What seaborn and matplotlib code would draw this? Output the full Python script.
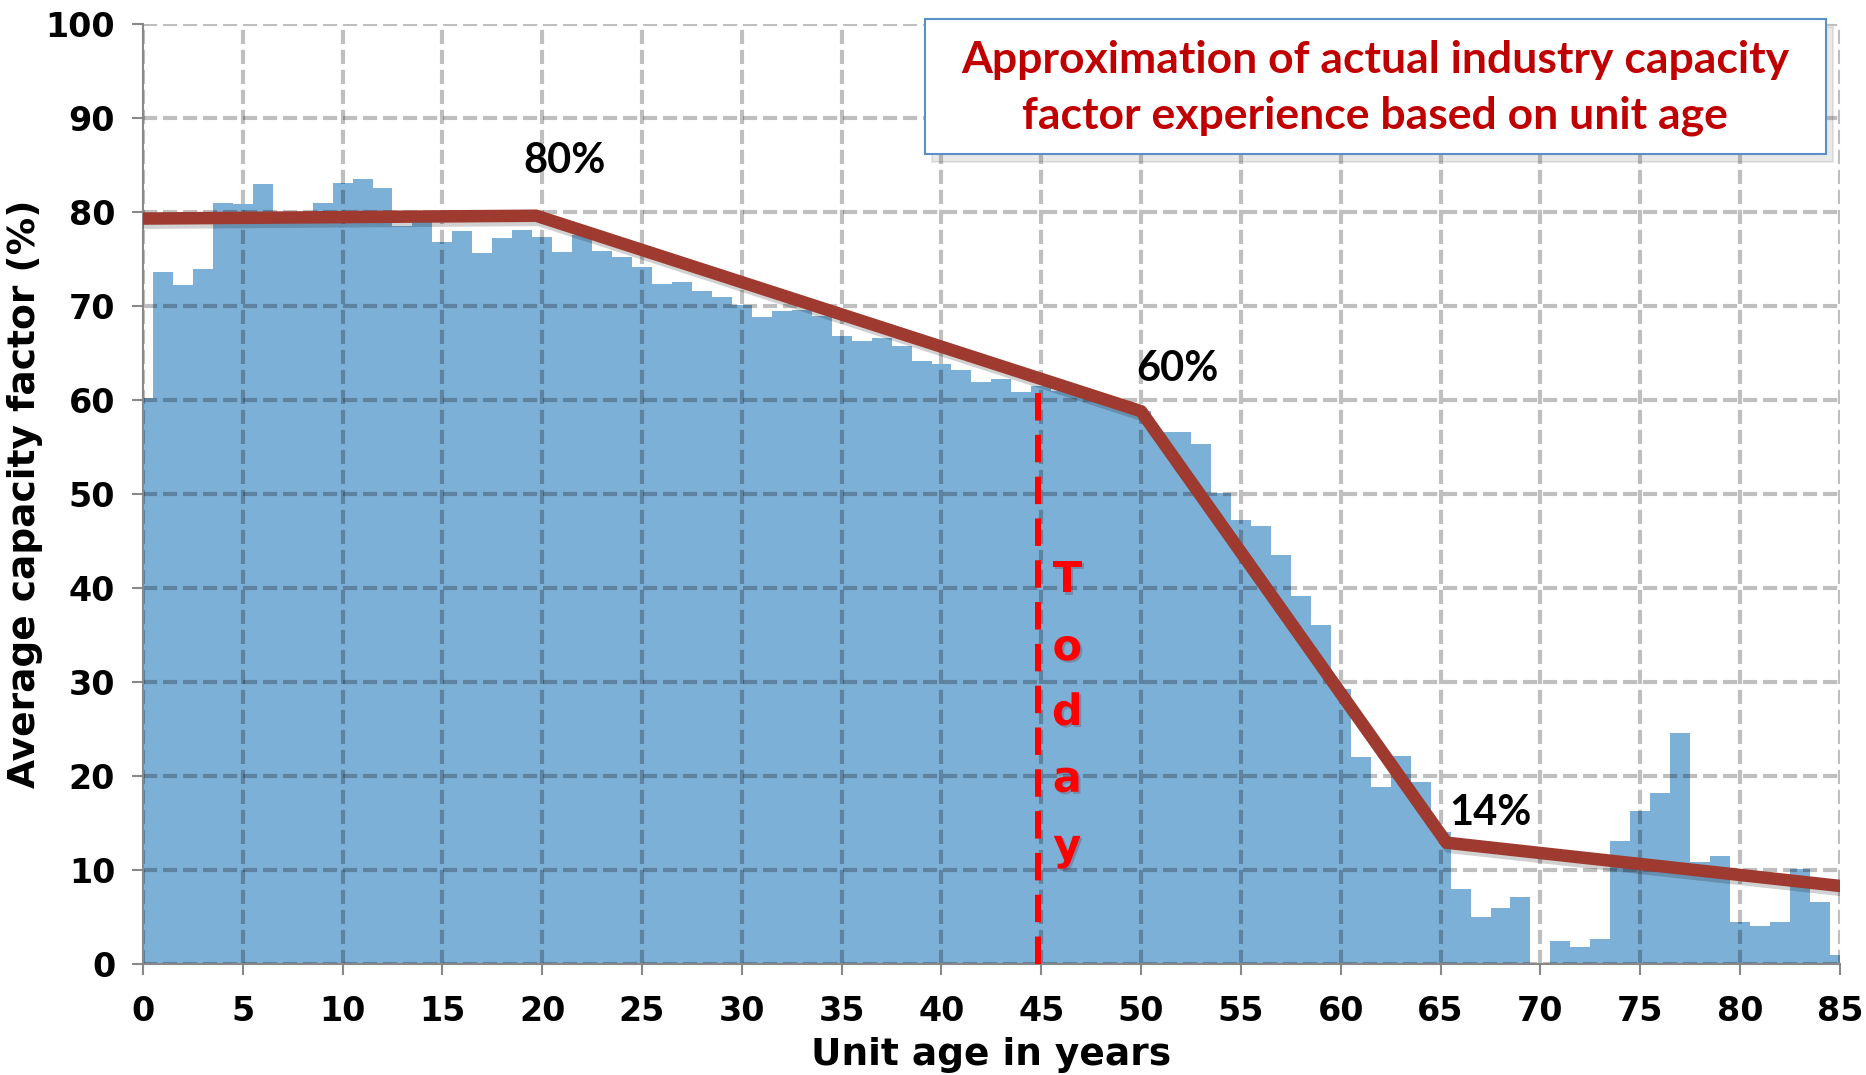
import numpy as np
import matplotlib
matplotlib.use("Agg")
import matplotlib.pyplot as plt
import matplotlib.patheffects as pe
from matplotlib.patches import Rectangle, Shadow
import seaborn as sns

# Datos: factor de capacidad medio por edad de la unidad
ages = np.arange(0, 86)
capacity = [
    60.2, 73.6, 72.2, 73.9, 81.0, 80.9, 83.0, 79.6, 79.4, 81.0,
    83.1, 83.5, 82.5, 78.5, 79.0, 76.8, 78.0, 75.6, 77.2, 78.1,
    77.3, 75.7, 77.5, 75.8, 75.2, 74.1, 72.3, 72.6, 71.6, 71.0,
    70.1, 68.8, 69.5, 69.6, 68.9, 66.8, 66.3, 66.6, 65.7, 64.1,
    63.8, 63.2, 61.9, 62.2, 60.9, 61.5, 61.0, 60.5, 60.0, 59.5,
    58.8, 56.6, 56.6, 55.3, 50.1, 47.2, 46.6, 43.5, 39.1, 36.1,
    29.3, 22.0, 18.8, 22.1, 19.4, 14.0, 8.0, 5.0, 5.9, 7.1,
    0.0, 2.4, 1.8, 2.7, 13.1, 16.3, 18.2, 24.6, 10.8, 11.5,
    4.5, 4.0, 4.5, 10.1, 6.6, 1.0,
]

# Aproximación por tramos
trend_x = [0, 19.7, 50.0, 65.3, 85.0]
trend_y = [79.3, 79.6, 58.8, 12.9, 8.3]

vertex_labels = ["80%", "60%", "14%"]
label_pos = [(21.1, 85.4), (51.8, 63.3), (67.5, 16.1)]

today_age = 44.85
today_top = 62.5
today_letters = list("Today")
today_y = [40.8, 33.6, 26.7, 19.6, 12.4]

box_text = "Approximation of actual industry capacity\nfactor experience based on unit age"

sns.set_style("white")

fig = plt.figure(figsize=(18.66, 10.75), dpi=100)
ax = fig.add_axes([0.0766, 0.1033, 0.9094, 0.8744])

sns.barplot(x=ages, y=capacity, native_scale=True, width=1.0,
            color="#7DB0D7", saturation=1, linewidth=0, ax=ax, zorder=1)

sns.lineplot(x=trend_x, y=trend_y, color="#9E3A2F", linewidth=9, ax=ax,
             solid_capstyle="round", solid_joinstyle="round", zorder=4,
             path_effects=[pe.SimpleLineShadow(offset=(2, -3), shadow_color="black", alpha=0.18),
                           pe.Normal()])

ax.plot([today_age, today_age], [0, today_top], color="#FF0000", linewidth=4.3,
        linestyle=(0, (4.6, 2.4)), zorder=3.5)

letter_fx = [pe.withSimplePatchShadow(offset=(1.5, -1.5), alpha=0.2)]
for ch, yy in zip(today_letters, today_y):
    ax.text(46.3, yy, ch, color="#FF0000", fontsize=31, fontweight="bold",
            ha="center", va="center", family="DejaVu Sans", zorder=5,
            path_effects=letter_fx)

for txt, (lx, ly) in zip(vertex_labels, label_pos):
    ax.text(lx, ly, txt, fontsize=30, fontweight="bold", family="Lato",
            ha="center", va="center", color="black", zorder=5)

# Cuadro de texto
box = Rectangle((39.17, 86.2), 45.13, 14.3, facecolor="white", edgecolor="#5B8FC7",
                linewidth=1.5, clip_on=False, zorder=6)
shadow = Shadow(box, 0.25, -0.6, alpha=0.12, clip_on=False, zorder=5.5)
ax.add_patch(shadow)
ax.add_patch(box)
ax.text(61.73, 93.2, box_text, color="#C00000", fontsize=32, fontweight="bold",
        family="Lato", ha="center", va="center", linespacing=1.48, zorder=7,
        clip_on=False)

ax.set_xlim(0, 85)
ax.set_ylim(0, 100)
ax.set_xticks(np.arange(0, 86, 5))
ax.set_yticks(np.arange(0, 101, 10))

ax.set_axisbelow(False)
ax.grid(True, color="black", alpha=0.25, linewidth=3, linestyle=(0, (3.4, 1.4)))
for s in ["top", "right"]:
    ax.spines[s].set_visible(False)
for s in ["left", "bottom"]:
    ax.spines[s].set_color("#888888")
    ax.spines[s].set_linewidth(1.5)
    ax.spines[s].set_zorder(3)

ax.tick_params(axis="both", which="major", direction="out", length=8, width=1.5,
               color="#888888", labelcolor="black", labelsize=24, left=True, bottom=True)
ax.tick_params(axis="x", pad=14)
ax.tick_params(axis="y", pad=12)
for lab in ax.get_xticklabels() + ax.get_yticklabels():
    lab.set_fontweight("bold")

ax.set_xlabel("Unit age in years", fontsize=27, fontweight="bold", color="black", labelpad=7)
ax.set_ylabel("Average capacity factor (%)", fontsize=27, fontweight="bold", color="black",
              labelpad=2)

fig.savefig("out.png", dpi=100)
